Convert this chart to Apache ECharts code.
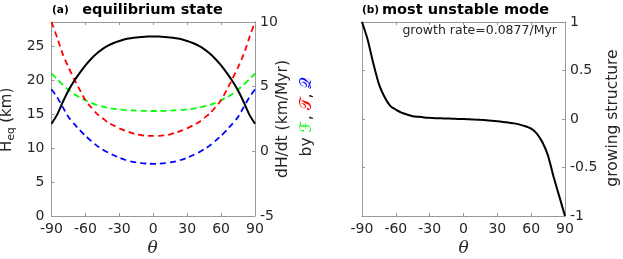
<!DOCTYPE html>
<html>
<head>
<meta charset="utf-8">
<script src="https://cdn.jsdelivr.net/npm/echarts@6/dist/echarts.min.js"></script>
<style>
html,body{margin:0;padding:0;background:#fff;}
#c{width:623px;height:259px;}
</style>
</head>
<body>
<div id="c"></div>
<script>
// latitude (deg)
const theta = [-90,-85,-80,-75,-70,-65,-60,-55,-50,-45,-40,-35,-30,-25,-20,-15,-10,-5,0,5,10,15,20,25,30,35,40,45,50,55,60,65,70,75,80,85,90];
// (a) equilibrium thickness H_eq (km), left axis
const heq = [13.6,14.95,16.8,18.5,19.9,21.1,22.2,23.15,23.95,24.6,25.1,25.5,25.8,26.05,26.2,26.32,26.4,26.45,26.47,26.45,26.4,26.32,26.2,26.05,25.8,25.5,25.1,24.6,23.95,23.15,22.2,21.1,19.9,18.5,16.8,14.95,13.6];
// (a) dH/dt by F (green), T (red), Q (blue), right axis (km/Myr)
const dhdtF = [6.0,5.58,5.15,4.77,4.44,4.17,3.95,3.76,3.58,3.47,3.36,3.29,3.25,3.2,3.17,3.15,3.13,3.12,3.12,3.12,3.13,3.15,3.17,3.2,3.25,3.29,3.36,3.47,3.58,3.76,3.95,4.17,4.44,4.77,5.15,5.58,6.0];
const dhdtT = [10.0,8.8,7.5,6.5,5.6,4.75,3.95,3.41,2.92,2.58,2.22,2.0,1.78,1.6,1.45,1.31,1.24,1.2,1.19,1.2,1.24,1.31,1.45,1.6,1.78,2.0,2.22,2.58,2.92,3.41,3.95,4.75,5.6,6.5,7.5,8.8,10.0];
const dhdtQ = [4.8,4.18,3.42,2.65,2.12,1.64,1.2,0.81,0.44,0.16,-0.1,-0.3,-0.49,-0.65,-0.77,-0.85,-0.91,-0.95,-0.97,-0.95,-0.91,-0.85,-0.77,-0.65,-0.49,-0.3,-0.1,0.16,0.44,0.81,1.2,1.64,2.12,2.65,3.42,4.18,4.8];
// (b) growing structure of most unstable mode
const growing = [1.0,0.82,0.574,0.36,0.226,0.136,0.097,0.065,0.046,0.029,0.022,0.016,0.012,0.009,0.007,0.005,0.003,0.001,0,-0.003,-0.006,-0.009,-0.013,-0.018,-0.024,-0.03,-0.037,-0.045,-0.058,-0.075,-0.1,-0.15,-0.24,-0.38,-0.6,-0.8,-1.0];
// axes
const xTicks = {min:-90, max:90, interval:30};
const heqAxis = {min:0, max:28.6, interval:5};
const dhdtAxis = {min:-5, max:10, interval:5};
const growAxis = {min:-1, max:1, interval:0.5};
const titles = ['equilibrium state','most unstable mode'];
const panelTags = ['(a)','(b)'];
const growthText = 'growth rate=0.0877/Myr';

const pair = (ys) => theta.map((t,i)=>[t, ys[i]]);
const FONT = 'DejaVu Sans';
const AX = '#999999';
const TXT = '#262626';

function xAx(grid, pos, labels){
  return {type:'value', gridIndex:grid, position:pos, min:xTicks.min, max:xTicks.max, interval:xTicks.interval,
    axisLine:{show:true, onZero:false, lineStyle:{color:AX, width:1}},
    axisTick:{show:true, inside:true, length:3, lineStyle:{color:AX}},
    axisLabel:{show:labels, color:TXT, fontFamily:FONT, fontSize:14, margin:6},
    splitLine:{show:false}};
}
function yAx(grid, pos, r, labels){
  return {type:'value', gridIndex:grid, position:pos, min:r.min, max:r.max, interval:r.interval,
    axisLine:{show:true, onZero:false, lineStyle:{color:AX, width:1}},
    axisTick:{show:true, inside:true, length:3, lineStyle:{color:AX}},
    axisLabel:{show:labels, color:TXT, fontFamily:FONT, fontSize:14, margin:pos==='left'?7:5, showMaxLabel: r.max%r.interval===0 ? true : false},
    splitLine:{show:false}};
}

const chart = echarts.init(document.getElementById('c'), null, {renderer:'canvas'});
const dashed = [6,4];
const SM = 0.2;
chart.setOption({
  animation:false,
  backgroundColor:'#ffffff',
  grid:[
    {left:51.5, top:22, width:203.5, height:194},
    {left:362, top:22, width:203, height:194}
  ],
  xAxis:[ xAx(0,'bottom',true), xAx(0,'top',false), xAx(1,'bottom',true), xAx(1,'top',false) ],
  yAxis:[ yAx(0,'left',heqAxis,true), yAx(0,'right',dhdtAxis,true), yAx(1,'left',growAxis,false), yAx(1,'right',growAxis,true) ],
  series:[
    {type:'line', xAxisIndex:0, yAxisIndex:1, data:pair(dhdtF), smooth:SM, showSymbol:false, lineStyle:{color:'#00ff00', width:1.8, type:dashed}},
    {type:'line', xAxisIndex:0, yAxisIndex:1, data:pair(dhdtT), smooth:SM, showSymbol:false, lineStyle:{color:'#ff0000', width:1.8, type:dashed}},
    {type:'line', xAxisIndex:0, yAxisIndex:1, data:pair(dhdtQ), smooth:SM, showSymbol:false, lineStyle:{color:'#0000ff', width:1.8, type:dashed}},
    {type:'line', xAxisIndex:0, yAxisIndex:0, data:pair(heq), smooth:SM, showSymbol:false, lineStyle:{color:'#000000', width:2}},
    {type:'line', xAxisIndex:2, yAxisIndex:3, data:pair(growing), smooth:SM, showSymbol:false, lineStyle:{color:'#000000', width:2}}
  ],
  graphic:[
    {type:'text', x:52, y:10, style:{text:panelTags[0], font:'bold 10.5px "DejaVu Sans"', fill:'#000', align:'left', verticalAlign:'middle'}},
    {type:'text', x:152.5, y:10, style:{text:titles[0], font:'bold 14.5px "DejaVu Sans"', fill:'#000', align:'center', verticalAlign:'middle'}},
    {type:'text', x:362, y:10, style:{text:panelTags[1], font:'bold 10.5px "DejaVu Sans"', fill:'#000', align:'left', verticalAlign:'middle'}},
    {type:'text', x:382, y:10, style:{text:titles[1], font:'bold 14.5px "DejaVu Sans"', fill:'#000', align:'left', verticalAlign:'middle'}},
    {type:'text', x:557, y:31, style:{text:growthText, font:'12.5px "DejaVu Sans"', fill:TXT, align:'right', verticalAlign:'middle'}},
    {type:'text', x:152.5, y:249, style:{text:'θ', font:'italic 17px "DejaVu Serif"', fill:TXT, align:'center', verticalAlign:'middle'}},
    {type:'text', x:463.5, y:249, style:{text:'θ', font:'italic 17px "DejaVu Serif"', fill:TXT, align:'center', verticalAlign:'middle'}},
    {type:'group', x:0, y:119, rotation:Math.PI/2, children:[
      {type:'text', x:-33, y:7, style:{text:'H', font:'15px "DejaVu Sans"', fill:TXT, align:'left', verticalAlign:'middle'}},
      {type:'text', x:-21.5, y:11.5, style:{text:'eq', font:'10.5px "DejaVu Sans"', fill:TXT, align:'left', verticalAlign:'middle'}},
      {type:'text', x:-8.5, y:7, style:{text:' (km)', font:'15px "DejaVu Sans"', fill:TXT, align:'left', verticalAlign:'middle'}}
    ]},
    {type:'text', x:282.5, y:119, rotation:Math.PI/2, style:{text:'dH/dt (km/Myr)', font:'15.5px "DejaVu Sans"', fill:TXT, align:'center', verticalAlign:'middle'}},
    {type:'text', x:307, y:117, rotation:Math.PI/2, style:{text:'by {g|ℱ}, {r|𝒯}, {b|𝒬}', font:'15.5px "DejaVu Sans"', fill:TXT, align:'center', verticalAlign:'middle',
      rich:{g:{fill:'#00ff00', font:'15.5px "DejaVu Sans"'}, r:{fill:'#ff0000', font:'15.5px "DejaVu Sans"'}, b:{fill:'#0000ff', font:'15.5px "DejaVu Sans"'}}}},
    {type:'text', x:613, y:118, rotation:Math.PI/2, style:{text:'growing structure', font:'15.5px "DejaVu Sans"', fill:TXT, align:'center', verticalAlign:'middle'}}
  ]
});
</script>
</body>
</html>
